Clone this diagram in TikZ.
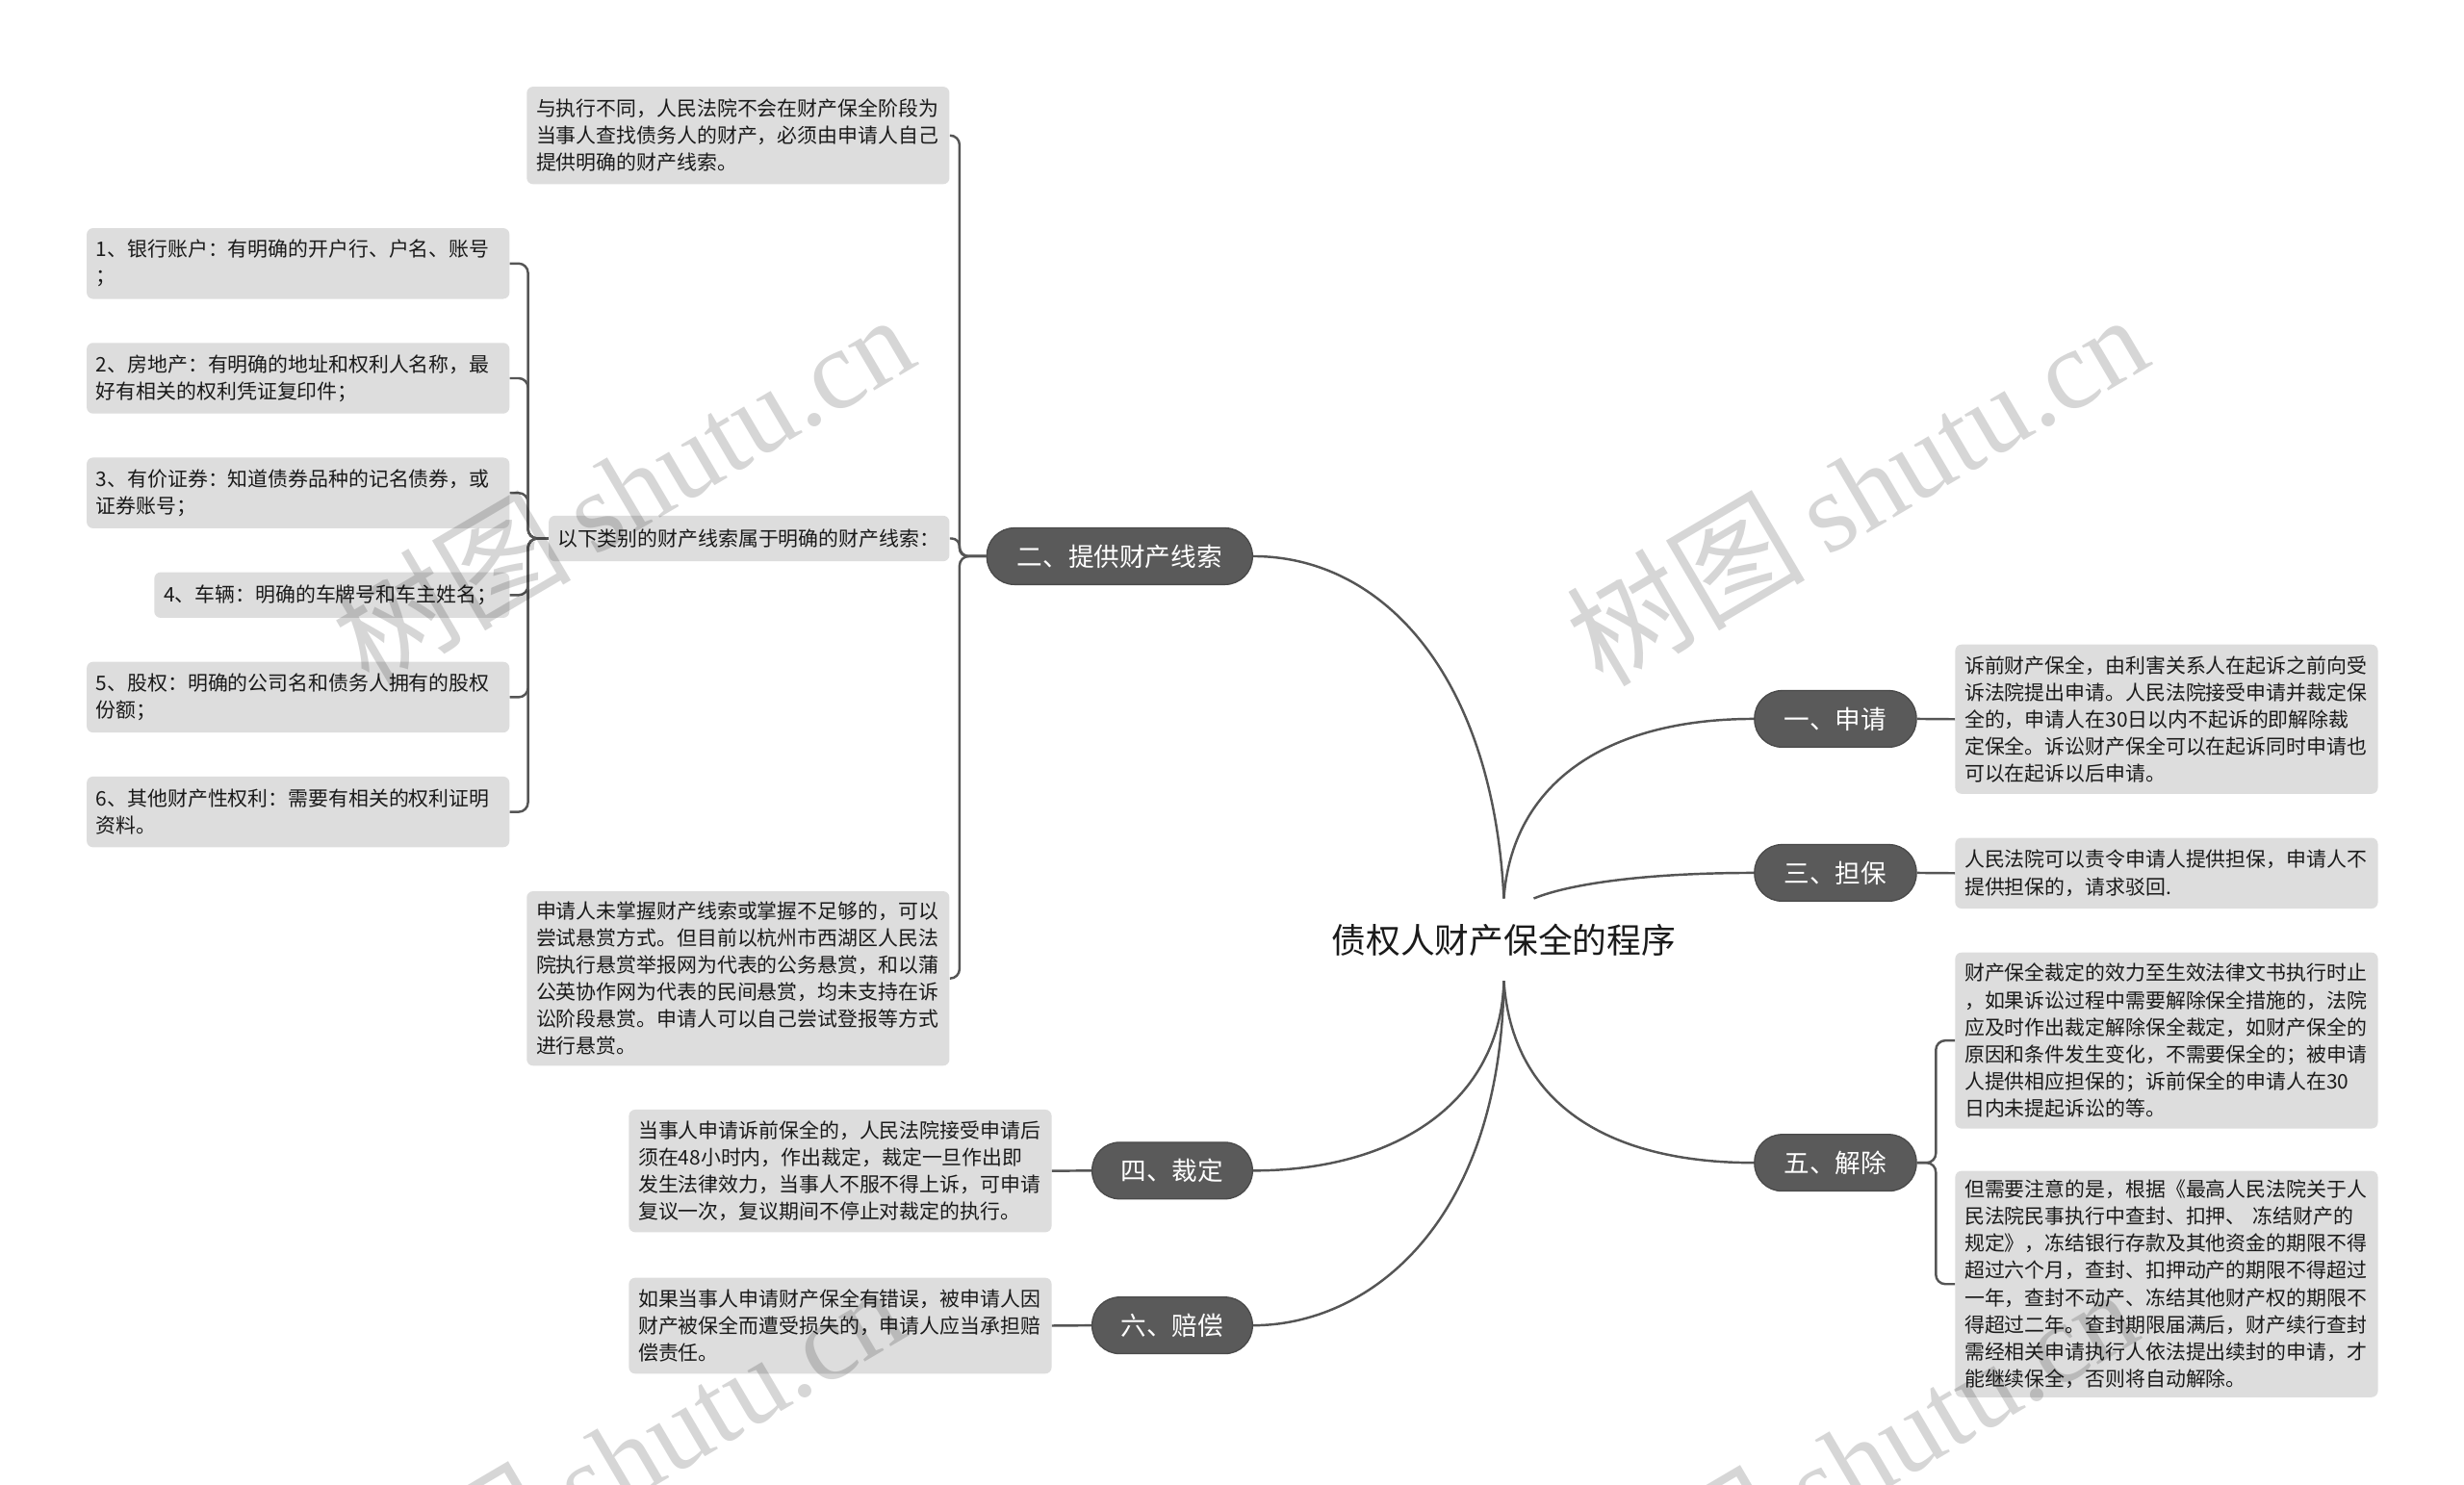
\documentclass[tikz,border=0pt]{standalone}
\usepackage{fontspec}
\setmainfont{Noto Sans CJK SC}
\newfontfamily\wmserif{Liberation Serif}
\definecolor{leafgray}{HTML}{DDDDDD}
\definecolor{pillgray}{HTML}{5A5A5A}
\definecolor{pilledge}{HTML}{4A4A4A}
\definecolor{linegray}{HTML}{555555}
\definecolor{txt}{HTML}{1A1A1A}
\newcommand{\wmtext}{{\fontsize{76}{80}\selectfont 树图}\hspace{14pt}{\wmserif\fontsize{72}{80}\selectfont shutu.cn}}
\begin{document}
\begin{tikzpicture}[x=1pt,y=-1pt,
  conn/.style={draw=linegray,line width=1.5pt},
  leaf/.style={rectangle,rounded corners=4pt,fill=leafgray,anchor=north west,
    inner xsep=6pt,inner ysep=0pt,align=left,text=txt,
    font=\fontsize{12.8}{17.2}\selectfont},
  pill/.style={rectangle,rounded corners=17.5pt,fill=pillgray,draw=pilledge,
    line width=0.8pt,text=white,font=\fontsize{16.3}{18}\selectfont,
    minimum height=36pt,inner sep=0pt},
  rootnode/.style={font=\fontsize{21.9}{24}\selectfont,text=txt,inner sep=0pt,
    minimum height=52pt},
  wm/.style={rotate=30.5,text=black,text opacity=0.16,inner sep=0pt}]
\useasboundingbox (0,0) rectangle (1568,945);
\fill[white] (0,0) rectangle (1568,945);
\clip (0,0) rectangle (1568,945);

% root and main topics
\node[rootnode] (root) at (957,598) {债权人财产保全的程序};
\node[pill,minimum width=103pt] (n1) at (1168,457.5) {一、申请};
\node[pill,minimum width=169pt] (n2) at (712.5,354) {二、提供财产线索};
\node[pill,minimum width=103pt] (n3) at (1168,555.5) {三、担保};
\node[pill,minimum width=102pt] (n4) at (746,745) {四、裁定};
\node[pill,minimum width=103pt] (n5) at (1168,740) {五、解除};
\node[pill,minimum width=102pt] (n6) at (746,843.5) {六、赔偿};

% left leaves of 二
\node[leaf,text width=257pt,minimum height=62pt] (a0) at (335,55)
  {与执行不同，人民法院不会在财产保全阶段为\\当事人查找债务人的财产，必须由申请人自己\\提供明确的财产线索。};
\node[leaf,text width=244pt,inner xsep=5.5pt,minimum height=29pt] (ax) at (349,328)
  {以下类别的财产线索属于明确的财产线索：};
\node[leaf,text width=257pt,minimum height=111pt] (ab) at (335,567)
  {申请人未掌握财产线索或掌握不足够的，可以\\尝试悬赏方式。但目前以杭州市西湖区人民法\\院执行悬赏举报网为代表的公务悬赏，和以蒲\\公英协作网为代表的民间悬赏，均未支持在诉\\讼阶段悬赏。申请人可以自己尝试登报等方式\\进行悬赏。};

% children of 以下类别
\node[leaf,text width=257pt,minimum height=45pt] (c1) at (55,145)
  {1、银行账户：有明确的开户行、户名、账号\\；};
\node[leaf,text width=257pt,minimum height=45pt] (c2) at (55,218)
  {2、房地产：有明确的地址和权利人名称，最\\好有相关的权利凭证复印件；};
\node[leaf,text width=257pt,minimum height=45pt] (c3) at (55,291)
  {3、有价证券：知道债券品种的记名债券，或\\证券账号；};
\node[leaf,text width=214pt,minimum height=29pt] (c4) at (98,364)
  {4、车辆：明确的车牌号和车主姓名；};
\node[leaf,text width=257pt,minimum height=45pt] (c5) at (55,421)
  {5、股权：明确的公司名和债务人拥有的股权\\份额；};
\node[leaf,text width=257pt,minimum height=45pt] (c6) at (55,494)
  {6、其他财产性权利：需要有相关的权利证明\\资料。};

% leaves of 四 and 六
\node[leaf,text width=257pt,minimum height=78pt] (d4) at (400,706)
  {当事人申请诉前保全的，人民法院接受申请后\\须在48小时内，作出裁定，裁定一旦作出即\\发生法律效力，当事人不服不得上诉，可申请\\复议一次，复议期间不停止对裁定的执行。};
\node[leaf,text width=257pt,minimum height=61pt] (d6) at (400,813)
  {如果当事人申请财产保全有错误，被申请人因\\财产被保全而遭受损失的，申请人应当承担赔\\偿责任。};

% right leaves
\node[leaf,text width=257pt,minimum height=95pt] (r1) at (1244,410)
  {诉前财产保全，由利害关系人在起诉之前向受\\诉法院提出申请。人民法院接受申请并裁定保\\全的，申请人在30日以内不起诉的即解除裁\\定保全。诉讼财产保全可以在起诉同时申请也\\可以在起诉以后申请。};
\node[leaf,text width=257pt,minimum height=45pt] (r3) at (1244,533)
  {人民法院可以责令申请人提供担保，申请人不\\提供担保的，请求驳回.};
\node[leaf,text width=257pt,minimum height=112pt] (r5a) at (1244,606)
  {财产保全裁定的效力至生效法律文书执行时止\\，如果诉讼过程中需要解除保全措施的，法院\\应及时作出裁定解除保全裁定，如财产保全的\\原因和条件发生变化，不需要保全的；被申请\\人提供相应担保的；诉前保全的申请人在30\\日内未提起诉讼的等。};
\node[leaf,text width=257pt,minimum height=144pt] (r5b) at (1244,745)
  {但需要注意的是，根据《最高人民法院关于人\\民法院民事执行中查封、扣押、 冻结财产的\\规定》，冻结银行存款及其他资金的期限不得\\超过六个月，查封、扣押动产的期限不得超过\\一年，查封不动产、冻结其他财产权的期限不\\得超过二年。查封期限届满后，财产续行查封\\需经相关申请执行人依法提出续封的申请，才\\能继续保全，否则将自动解除。};

% connectors from root
\draw[conn] (root.north) .. controls (950,430) and (880,354) .. (n2.east);
\draw[conn] (root.north) .. controls (962,500) and (1020,457.5) .. (n1.west);
\draw[conn] ([xshift=19pt]root.north) .. controls (1000,562) and (1050,555.5) .. (n3.west);
\draw[conn] (root.south) .. controls (962,700) and (1020,740) .. (n5.west);
\draw[conn] (root.south) .. controls (955,700) and (890,745) .. (n4.east);
\draw[conn] (root.south) .. controls (955,780) and (870,843.5) .. (n6.east);

% brackets
\draw[conn,rounded corners=6pt] (n2.west) -- ++(-17,0) |- (a0.east);
\draw[conn,rounded corners=5pt] (n2.west) -- ++(-17,0) |- (ax.east);
\draw[conn,rounded corners=6pt] (n2.west) -- ++(-17,0) |- (ab.east);
\foreach \c in {c1,c2,c3,c4,c5,c6}
  \draw[conn,rounded corners=6pt] (ax.west) -- ++(-13,0) |- (\c.east);
\draw[conn,rounded corners=6pt] (n5.east) -- ++(12,0) |- (r5a.west);
\draw[conn,rounded corners=6pt] (n5.east) -- ++(12,0) |- (r5b.west);
\draw[conn] (n1.east) -- (r1.west);
\draw[conn] (n3.east) -- (r3.west);
\draw[conn] (n4.west) -- (d4.east);
\draw[conn] (n6.west) -- (d6.east);

% watermarks
\node[wm] (w1) at (396,310) {\wmtext};
\node[wm] (w2) at (1181,310) {\wmtext};
\node[wm] (w3) at (390,928) {\wmtext};
\node[wm] (w4) at (1174,930) {\wmtext};
\end{tikzpicture}
\end{document}
